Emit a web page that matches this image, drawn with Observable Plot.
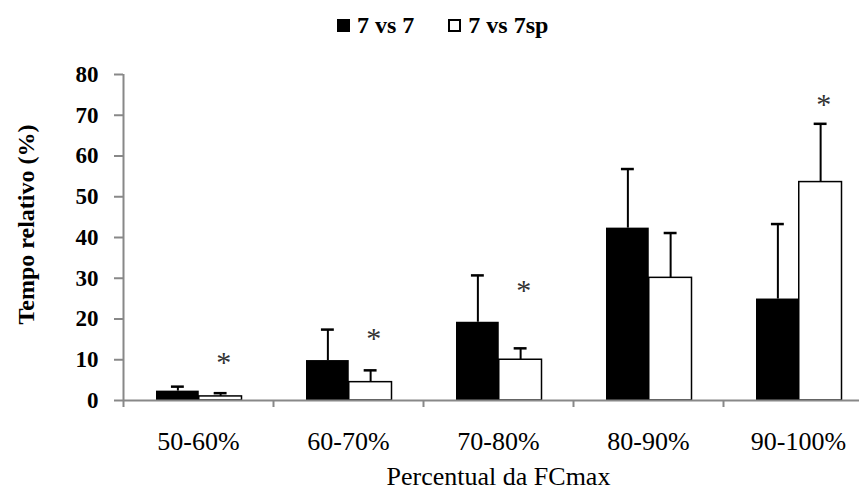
<!DOCTYPE html>
<html>
<head>
<meta charset="utf-8">
<script src="https://cdn.jsdelivr.net/npm/d3@7"></script>
<script src="https://cdn.jsdelivr.net/npm/@observablehq/plot@0.6"></script>
<style>
  html, body { margin: 0; padding: 0; background: #fff; overflow: hidden; }
  #legend {
    height: 50px; display: flex; align-items: center; padding-left: 337px;
    font-family: "Liberation Serif", "Times New Roman", serif; font-weight: bold; font-size: 24px; color: #000;
  }
  #legend .sw { display: inline-block; width: 13px; height: 13px; box-sizing: border-box; margin-right: 7px; }
  #legend .item { display: flex; align-items: center; margin-right: 34px; }
</style>
</head>
<body>
<div id="legend"></div>
<div id="chart"></div>
<script>
// Heart-rate zones (% of maximal heart rate)
const categories = ["50-60%", "60-70%", "70-80%", "80-90%", "90-100%"];
const seriesNames = ["7 vs 7", "7 vs 7sp"];

// Relative time (%) spent in each zone: mean and standard deviation
const mean77 = [2.3, 9.8, 19.2, 42.3, 24.9];
const sd77 = [1.1, 7.6, 11.5, 14.5, 18.4];
const mean77sp = [1.0, 4.5, 10.0, 30.1, 53.6];
const sd77sp = [0.8, 2.9, 2.8, 11.0, 14.3];

// Height of the significance markers (*) above the 7 vs 7sp bars
const starLevel = [10.6, 16.4, 28.2, null, 73.9];

const yTicks = [0, 10, 20, 30, 40, 50, 60, 70, 80];

const serif = "'Liberation Serif', 'Times New Roman', serif";

// Legend
const legend = document.getElementById("legend");
seriesNames.forEach((name, k) => {
  const item = document.createElement("span");
  item.className = "item";
  const sw = document.createElement("span");
  sw.className = "sw";
  sw.style.background = k === 0 ? "#000" : "#fff";
  sw.style.border = "2px solid #000";
  item.appendChild(sw);
  item.appendChild(document.createTextNode(name));
  legend.appendChild(item);
});

// Each zone occupies one unit on the x scale; the two bars sit side by side in it
const barLeft = 0.22, barMid = 0.505, barRight = 0.79;
const rows = categories.flatMap((c, i) => [
  {zone: c, series: seriesNames[0], x1: i + barLeft, x2: i + barMid, mean: mean77[i], sd: sd77[i], star: null},
  {zone: c, series: seriesNames[1], x1: i + barMid, x2: i + barRight, mean: mean77sp[i], sd: sd77sp[i], star: starLevel[i]}
]);
const center = d => (d.x1 + d.x2) / 2;
const capHalf = 0.043;

const plot = Plot.plot({
  width: 859,
  height: 440,
  marginLeft: 123,
  marginRight: -14,
  marginTop: 24,
  marginBottom: 90,
  style: {fontFamily: serif, background: "#fff", overflow: "visible"},
  x: {domain: [0, 5]},
  y: {domain: [0, 80]},
  marks: [
    // bars
    Plot.rect(rows.filter(d => d.series === seriesNames[0]), {x1: "x1", x2: "x2", y1: 0, y2: "mean", fill: "#000"}),
    Plot.rect(rows.filter(d => d.series === seriesNames[1]), {x1: "x1", x2: "x2", y1: 0, y2: "mean", fill: "#fff", stroke: "#000", strokeWidth: 1.5}),
    // upper error bars
    Plot.ruleX(rows, {x: center, y1: "mean", y2: d => d.mean + d.sd, stroke: "#000", strokeWidth: 2}),
    Plot.ruleY(rows, {y: d => d.mean + d.sd, x1: d => center(d) - capHalf, x2: d => center(d) + capHalf, stroke: "#000", strokeWidth: 2.5}),
    // significance markers
    Plot.text(rows.filter(d => d.star != null), {x: d => center(d) + 0.02, y: "star", text: () => "*", fontSize: 30, fontFamily: serif, fill: "#333", dy: 5}),
    // axis lines
    Plot.ruleY([0], {stroke: "#888", strokeWidth: 2}),
    Plot.ruleX([0], {y1: 0, y2: 80, stroke: "#888", strokeWidth: 2}),
    // y axis
    Plot.axisY({ticks: yTicks, tickSize: 9, tickPadding: 16, stroke: "#888", strokeWidth: 2, fill: "#000",
      fontSize: 23, fontWeight: "bold", fontFamily: serif, label: null}),
    Plot.text(["Tempo relativo (%)"], {frameAnchor: "left", textAnchor: "middle", rotate: -90, dx: -97, dy: -13,
      fontSize: 24, fontWeight: "bold", fontFamily: serif, fill: "#000"}),
    // zone boundaries
    Plot.axisX({ticks: d3.range(0, 6), tickSize: 7, tickFormat: () => "", stroke: "#888", strokeWidth: 2, label: null}),
    // zone labels
    Plot.axisX({ticks: categories.map((c, i) => i + 0.5), tickFormat: v => categories[Math.floor(v)],
      tickSize: 0, tickPadding: 31, fontSize: 26, fontFamily: serif, fill: "#000", label: null}),
    Plot.text(["Percentual da FCmax"], {frameAnchor: "bottom", lineAnchor: "top", dy: 66, fontSize: 26, fontFamily: serif, fill: "#000"})
  ]
});
document.getElementById("chart").appendChild(plot);
</script>
</body>
</html>
